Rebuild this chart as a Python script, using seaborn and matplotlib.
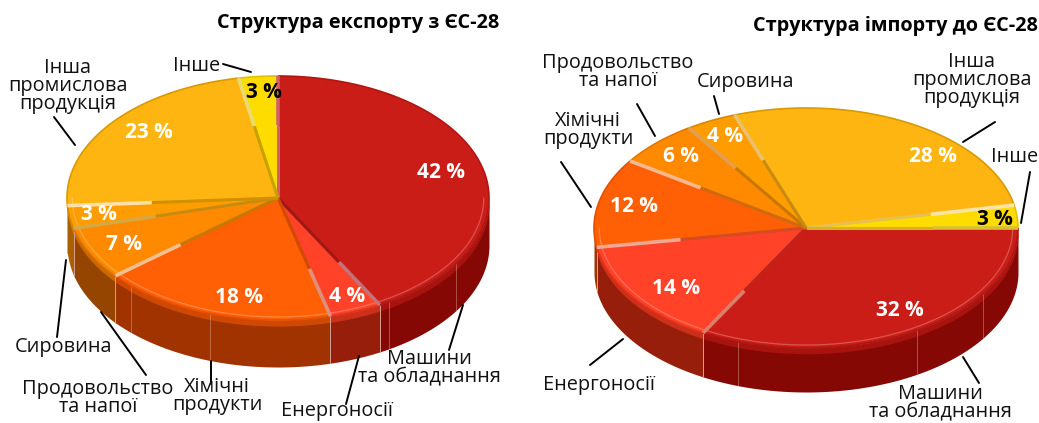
import numpy as np
import matplotlib
matplotlib.use("Agg")
import matplotlib.pyplot as plt
import seaborn as sns
from matplotlib.lines import Line2D

W, H = 1039, 423

# printed percentages
exp_values = [42, 4, 18, 7, 3, 23, 3]
imp_values = [3, 32, 14, 12, 6, 4, 28]
# slice sizes (the printed import figures only add up to 99)
imp_shares = [3.05, 33.05, 14.35, 12.0, 6.25, 3.85, 27.4]
exp_title = "Структура експорту з ЄС-28"
imp_title = "Структура імпорту до ЄС-28"

MACHINE, ENERGY, CHEM, FOOD, RAW, INDUSTRY, OTHER = "#cb1d18", "#ff4228", "#ff5f05", "#ff8a00", "#ff9d00", "#ffb511", "#ffdc00"
exp_colors = [MACHINE, ENERGY, CHEM, FOOD, RAW, INDUSTRY, OTHER]
imp_colors = [OTHER, MACHINE, ENERGY, CHEM, FOOD, RAW, INDUSTRY]
WALLS = {MACHINE: "#860805", ENERGY: "#981e0c", CHEM: "#a03300", FOOD: "#964500",
         RAW: "#a86000", INDUSTRY: "#c88400", OTHER: "#c8a800"}
RIMS = {MACHINE: "#b01510", ENERGY: "#e83018", CHEM: "#e84f00", FOOD: "#e07800",
        RAW: "#d98800", INDUSTRY: "#d99a00", OTHER: "#e0c000"}

# boundary ridges, clockwise from the start angle: (inner colour, outer colour)
exp_ridges = [("#d0606a", "#d0606a"), ("#a01814", "#c2737a"), ("#d04a00", "#e0907a"), ("#c87800", "#f0c090"),
              ("#c88a10", "#d8a840"), ("#d09000", "#ffe0a8"), ("#c8a000", "#e8dc70")]
imp_ridges = [("#e8c050", "#ffe4a8"), ("#d8b020", "#d8c030"), ("#c02418", "#d8806c"), ("#d84a20", "#f0a890"),
              ("#d06a10", "#f4b890"), ("#c87800", "#e0a050"), ("#c88a10", "#e8c070")]

exp_pct = [(441, 172), (347, 296), (239, 297), (124, 245), (99, 215), (149, 132), (264, 92)]
imp_pct = [(995, 219), (900, 310), (676, 289), (634, 206), (681, 157), (725, 136), (933, 156)]

exp_labels = [("Інше", 197, 66), ("Інша\nпромислова\nпродукція", 68, 86), ("Сировина", 63, 347),
              ("Продовольство\nта напої", 98, 398), ("Хімічні\nпродукти", 217, 396),
              ("Енергоносії", 337, 411), ("Машини\nта обладнання", 429, 368)]
imp_labels = [("Продовольство\nта напої", 618, 72), ("Сировина", 745, 82), ("Хімічні\nпродукти", 588, 130),
              ("Інша\nпромислова\nпродукція", 972, 80), ("Інше", 1015, 157),
              ("Енергоносії", 599, 385), ("Машини\nта обладнання", 940, 403)]

leaders = [((223, 64), (251, 72)), ((54, 117), (75, 145)), ((66, 260), (57, 337)), ((101, 312), (146, 375)),
           ((211, 361), (211, 384)), ((359, 356), (346, 404)), ((463, 305), (449, 350)),
           ((963, 357), (979, 383)), ((623, 339), (590, 365)), ((561, 162), (591, 207)), ((637, 104), (655, 136)),
           ((714, 96), (719, 114)), ((995, 122), (963, 142)), ((1030, 172), (1021, 223))]

# faint facet seams on the side wall, pixel x
exp_seams = [131, 389, 456, 210]
imp_seams = [738, 917, 983]

sns.set_theme(style="white")
plt.rcParams["font.family"] = ["Open Sans", "DejaVu Sans"]
fig = plt.figure(figsize=(W / 100, H / 100), dpi=100, facecolor="white")


def lighter(color, amount):
    return sns.blend_palette([color, "#ffffff"], 101)[amount]


def draw_pie(box, center, a, b, depth, values, colors, ridges, start, seams):
    x0, x1 = box
    ax = fig.add_axes([x0 / W, 0, (x1 - x0) / W, 1])
    ax.pie(values, colors=colors, startangle=start, counterclock=False, radius=1, center=(0, 0),
           wedgeprops={"linewidth": 0, "zorder": 3})
    ax.set_aspect("auto")
    ax.set_xlim((x0 - center[0]) / a, (x1 - center[0]) / a)
    ax.set_ylim((center[1] - H) / b, center[1] / b)
    ax.axis("off")
    d = depth / b
    shares = np.array(values) / sum(values) * 360
    edges = start - np.concatenate([[0], np.cumsum(shares)])
    for i, color in enumerate(colors):
        t1, t2 = edges[i], edges[i + 1]
        t = np.radians(np.linspace(t1, t2, 120))
        ax.plot(np.cos(t), np.sin(t), color=RIMS[color], lw=1.2, zorder=4, solid_capstyle="butt")
        # side wall only where the rim faces the viewer
        s1, s2 = min(t1, 0), max(t2, -180)
        if s1 <= s2:
            continue
        w = np.radians(np.linspace(s1, s2, 120))
        ax.fill_between(np.cos(w), np.sin(w), np.sin(w) - d, color=WALLS[color], lw=0, zorder=1)
        ax.fill_between(np.cos(w), np.sin(w), np.sin(w) - d * 0.13,
                        color=sns.blend_palette([WALLS[color], color], 5)[2], lw=0, zorder=2)
        ax.plot(np.cos(w) * 0.975, np.sin(w) * 0.975, color=lighter(color, 35), lw=0.9, alpha=0.7, zorder=4)
        if s1 != 0:
            ax.plot([np.cos(w[0])] * 2, [np.sin(w[0]), np.sin(w[0]) - d], color="#d8a090", lw=0.7, zorder=2)
    for px in seams:
        xs = (px - center[0]) / a
        ys = -np.sqrt(1 - xs ** 2)
        ax.plot([xs, xs], [ys, ys - d], color="#e0b0a0", lw=0.6, alpha=0.5, zorder=2)
    for t, (inner, outer) in zip(edges[:-1], ridges):
        c, s = np.cos(np.radians(t)), np.sin(np.radians(t))
        ax.plot([0, 0.6 * c], [0, 0.6 * s], color=inner, lw=2.2, zorder=5, solid_capstyle="butt")
        ax.plot([0.6 * c, c], [0.6 * s, s], color=outer, lw=2.6, zorder=5, solid_capstyle="butt")
    return ax


draw_pie((0, 520), (278, 198), 211, 122, 47, exp_values, exp_colors, exp_ridges, 90, exp_seams)
draw_pie((520, 1039), (806, 228), 212, 120, 44, imp_shares, imp_colors, imp_ridges,
         imp_shares[0] / sum(imp_shares) * 360, imp_seams)


def put(s, x, y, **kw):
    fig.text(x / W, 1 - y / H, s, ha=kw.pop("ha", "center"), va="center", **kw)


put(exp_title, 499, 23, ha="right", fontsize=14.3, fontweight="bold", color="black")
put(imp_title, 1038, 26, ha="right", fontsize=14.3, fontweight="bold", color="black")

for vals, cols, spots in ((exp_values, exp_colors, exp_pct), (imp_values, imp_colors, imp_pct)):
    for v, col, (x, y) in zip(vals, cols, spots):
        put(f"{v} %", x, y, fontsize=15, fontweight="bold", color="black" if col == OTHER else "white", zorder=10)

for s, x, y in exp_labels + imp_labels:
    put(s, x, y, fontsize=14.3, color="#111111", linespacing=0.85)

for p, q in leaders:
    fig.add_artist(Line2D([p[0] / W, q[0] / W], [1 - p[1] / H, 1 - q[1] / H], color="black", lw=1.4,
                          transform=fig.transFigure))

fig.savefig("out.png", dpi=100)
